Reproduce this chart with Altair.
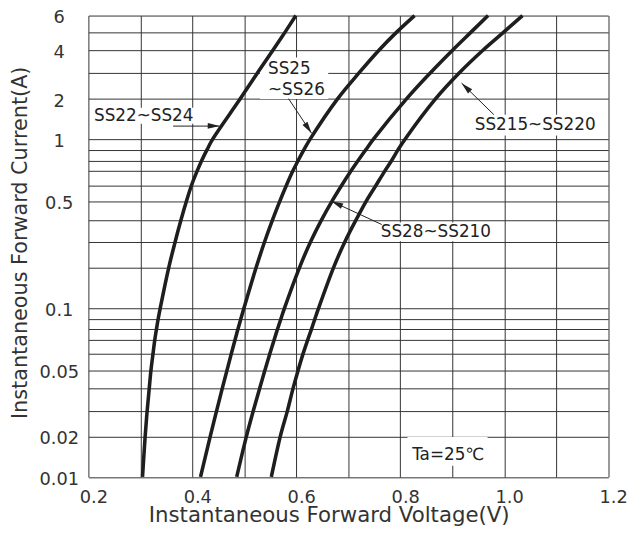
import json
import altair as alt
import pandas as pd

# ---- data ----
current = [0.01, 0.02, 0.03, 0.04, 0.05, 0.06, 0.07, 0.08, 0.09, 0.1,
           0.2, 0.3, 0.4, 0.5, 0.6, 0.7, 0.8, 0.9, 1, 2, 3, 4, 5, 6]
v_ss22 = [0.3041, 0.3092, 0.3130, 0.3170, 0.3204, 0.3244, 0.3276, 0.3309, 0.3343, 0.3383,
          0.3547, 0.3668, 0.3782, 0.3887, 0.3984, 0.4091, 0.4180, 0.4283, 0.4391, 0.4924,
          0.5249, 0.5546, 0.5780, 0.5991]
v_ss25 = [0.4157, 0.4344, 0.4465, 0.4574, 0.4667, 0.4751, 0.4819, 0.4876, 0.4933, 0.4994,
          0.5228, 0.5388, 0.5542, 0.5683, 0.5810, 0.5932, 0.6035, 0.6147, 0.6265, 0.6797,
          0.7201, 0.7585, 0.7925, 0.8275]
v_ss28 = [0.4853, 0.5040, 0.5171, 0.5293, 0.5396, 0.5493, 0.5571, 0.5637, 0.5704, 0.5774,
          0.6063, 0.6272, 0.6485, 0.6687, 0.6874, 0.7050, 0.7189, 0.7338, 0.7484, 0.8123,
          0.8572, 0.9000, 0.9356, 0.9689]
v_ss215 = [0.5519, 0.5692, 0.5827, 0.5936, 0.6035, 0.6132, 0.6217, 0.6290, 0.6358, 0.6430,
           0.6718, 0.6932, 0.7149, 0.7345, 0.7534, 0.7701, 0.7834, 0.7958, 0.8091, 0.8681,
           0.9128, 0.9584, 0.9984, 1.0351]
series_names = ["SS22~SS24", "SS25~SS26", "SS28~SS210", "SS215~SS220"]

x_grid = [0.2, 0.3, 0.4, 0.5, 0.6, 0.7, 0.8, 0.9, 1.0, 1.1, 1.2]
x_labels = [0.2, 0.4, 0.6, 0.8, 1.0, 1.2]
y_grid = current
y_labels = [0.01, 0.02, 0.05, 0.1, 0.5, 1, 2, 4, 6]

# annotation texts (data units)
ann_text = ["SS22~SS24", "SS25", "~SS26", "SS28~SS210", "SS215~SS220", "Ta=25\u2103"]
ann_x = [0.2108, 0.5456, 0.5456, 0.7625, 0.9432, 0.8228]
ann_y = [1.49, 3.17, 2.29, 0.341, 1.267, 0.01466]

# white boxes behind annotation texts
box_x = [0.205, 0.5302, 0.755, 0.9356, 0.8139]
box_x2 = [0.4106, 0.6614, 0.991, 1.1886, 0.9679]
box_y = [1.304, 1.99, 0.303, 1.065, 0.0121]
box_y2 = [1.709, 3.66, 0.386, 1.518, 0.0198]

# arrows: start -> tip
arr_x = [0.363, 0.585, 0.7643, 0.98]
arr_y = [1.25, 2.0, 0.3765, 1.52]
arr_x2 = [0.4524, 0.6293, 0.6674, 0.9179]
arr_y2 = [1.25, 1.107, 0.499, 2.56]
arr_angle = [1.2, 56.3, 204.6, 224.2]

# ---- tables ----
rows = []
for name, vs in zip(series_names, [v_ss22, v_ss25, v_ss28, v_ss215]):
    for k, (c, v) in enumerate(zip(current, vs)):
        rows.append({"series": name, "v": v, "i": c, "k": k})
curves = pd.DataFrame(rows)
texts = pd.DataFrame({"t": ann_text, "x": ann_x, "y": ann_y})
boxes = pd.DataFrame({"x": box_x, "x2": box_x2, "y": box_y, "y2": box_y2})
arrows = pd.DataFrame({"x": arr_x, "y": arr_y, "x2": arr_x2, "y2": arr_y2, "a": arr_angle})

# ---- scales / axes ----
W, H = 525.7, 466.6
# the datasheet's printed grid: pixel offset of each gridline from the top
y_break_px = [466.6, 425.6, 400.0, 377.3, 358.6, 341.6, 328.3, 317.3, 306.6, 295.6,
              254.6, 229.0, 206.6, 187.6, 171.6, 157.3, 146.6, 135.6, 125.0,
              84.0, 58.3, 35.3, 17.0, 0.0]
xscale = alt.Scale(domain=[0.2, 1.2], nice=False, zero=False)
yscale = alt.Scale(type="log", domain=y_grid, range=y_break_px, nice=False)

FONT = "DejaVu Sans"
GRID = "#333333"
xaxis = alt.Axis(
    values=x_grid, format=".1f",
    labelExpr=f"indexof({json.dumps(x_labels)}, datum.value) >= 0 ? datum.label : ''",
    grid=True, gridColor=GRID, gridWidth=1, gridOpacity=1,
    ticks=False, tickSize=0, domain=False,
    labelFont=FONT, labelFontSize=18, labelColor="#333", labelPadding=12,
    labelOffset=5, labelFlush=False, labelOverlap=False,
    title="Instantaneous Forward Voltage(V)", titleFont=FONT, titleFontSize=21.5,
    titleFontWeight="normal", titleColor="#333", titleX=243, titleY=45,
    titleAlign="center", titleBaseline="alphabetic",
)
yaxis = alt.Axis(
    values=y_grid, format="~g",
    labelExpr=f"indexof({json.dumps(y_labels)}, datum.value) >= 0 ? datum.label : ''",
    grid=True, gridColor=GRID, gridWidth=1, gridOpacity=1,
    ticks=False, tickSize=0, domain=False,
    labelFont=FONT, labelFontSize=18, labelColor="#333", labelPadding=30,
    labelOffset=2.5,
    labelAlign="center", labelBaseline="middle", labelOverlap=False, labelFlush=False,
    title="Instantaneous Forward Current(A)", titleFont=FONT, titleFontSize=21,
    titleFontWeight="normal", titleColor="#333", titleAngle=270,
    titleX=-62.5, titleY=229.3, titleAlign="center", titleBaseline="alphabetic",
)


def X(f):
    return alt.X(f, type="quantitative", scale=xscale, axis=xaxis)


def Y(f):
    return alt.Y(f, type="quantitative", scale=yscale, axis=yaxis)


box_layer = alt.Chart(boxes).mark_rect(fill="white", stroke=None).encode(
    x=X("x"), x2="x2", y=Y("y"), y2="y2")

line_layer = alt.Chart(curves).mark_line(
    color="#1e1e1e", strokeWidth=3.6, interpolate="catmull-rom").encode(
    x=X("v"), y=Y("i"), detail="series:N", order="k:Q")

rule_layer = alt.Chart(arrows).mark_rule(color="#222", strokeWidth=1).encode(
    x=X("x"), y=Y("y"), x2="x2", y2="y2")

head_layer = alt.Chart(arrows).mark_point(
    shape="M0,0L-2,-0.5L-2,0.5Z", filled=True, size=144, color="#222",
    opacity=1, strokeWidth=0).encode(
    x=X("x2"), y=Y("y2"), angle=alt.Angle("a:Q", scale=None))

text_layer = alt.Chart(texts).mark_text(
    align="left", baseline="middle", font=FONT, fontSize=17, color="#222").encode(
    x=X("x"), y=Y("y"), text="t:N")

chart = alt.layer(box_layer, line_layer, rule_layer, head_layer, text_layer).properties(
    width=W, height=H,
    autosize=alt.AutoSizeParams(type="none"),
    padding={"left": 81.3, "top": 4.7, "right": 20, "bottom": 50},
    background="white",
).configure_view(stroke=None)

chart.save("out.html", embed_options={"renderer": "svg", "actions": False})
